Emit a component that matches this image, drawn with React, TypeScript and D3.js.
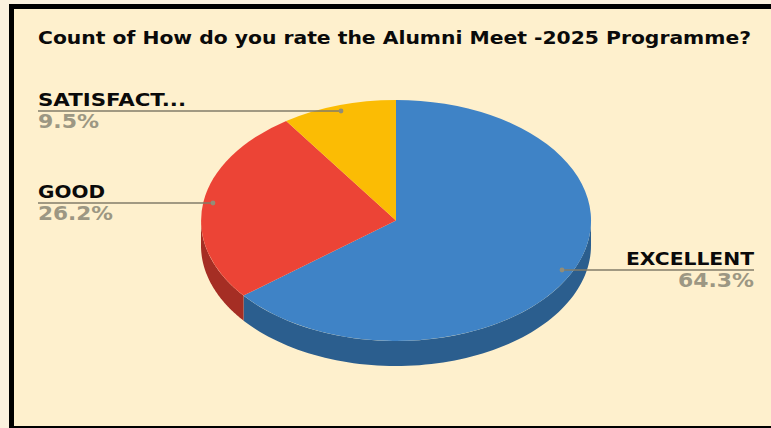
import React from "react";
import * as d3 from "d3";

const categories = ["EXCELLENT", "GOOD", "SATISFACTORY"];
const shownLabels = ["EXCELLENT", "GOOD", "SATISFACT..."];
const counts = [27, 11, 4];
const colors = ["#3f83c6", "#ec4436", "#fbbc04"];
const wallColors = ["#2b5e8e", "#a52e24", "#b58804"];
const title = "Count of How do you rate the Alumni Meet -2025 Programme?";

const W = 771, H = 428;
const cx = 396, cy = 220.5, rx = 195, ry = 120.5, depth = 25;
const font = "'DejaVu Sans', Verdana, sans-serif";

// label layout: leader y, dot x, and the stretched widths of the reference's text
const labelLayout = [
  { x: 754, y: 270, anchor: "end", dotX: 562, nameW: 128, pctW: 76 },
  { x: 38, y: 203, anchor: "start", dotX: 213, nameW: 67, pctW: 75 },
  { x: 38, y: 111, anchor: "start", dotX: 341, nameW: 148, pctW: 61 },
];

export default function App() {
  const total = d3.sum(counts);
  const pie = d3.pie<number>().sort(null).startAngle(0).endAngle(2 * Math.PI);
  const arcs = pie(counts);
  const arc = d3.arc<d3.PieArcDatum<number>>().innerRadius(0).outerRadius(1);
  const sx = d3.scaleLinear().domain([-1, 1]).range([cx - rx, cx + rx]);
  const sy = d3.scaleLinear().domain([-1, 1]).range([cy - ry, cy + ry]);
  const pct = d3.format(".1%");

  const wall = (a: d3.PieArcDatum<number>) => {
    const s = Math.max(a.startAngle, Math.PI / 2);
    const e = Math.min(a.endAngle, (3 * Math.PI) / 2);
    if (e <= s) return null;
    const n = 80;
    const ang = d3.range(n + 1).map((i) => s + ((e - s) * i) / n);
    const top = ang.map((t) => [sx(Math.sin(t)), sy(-Math.cos(t))] as [number, number]);
    const bottom = top.map(([x, y]) => [x, y + depth] as [number, number]).reverse();
    return d3.line()([...top, ...bottom]) + "Z";
  };

  return (
    <svg
      width={W}
      height={H}
      style={{ position: "absolute", left: 0, top: 0, display: "block" }}
      fontFamily={font}
    >
      <rect width={W} height={H} fill="#fbf1de" />
      <rect x={9} y={4} width={W} height={H} fill="#000" />
      <rect x={14} y={9} width={W} height={417} fill="#fef0cd" />
      <text
        x={38}
        y={44}
        fontSize={17}
        fontWeight="bold"
        fill="#0a0a0a"
        textLength={713}
        lengthAdjust="spacingAndGlyphs"
      >
        {title}
      </text>

      {arcs.map((a, i) => {
        const d = wall(a);
        return d ? <path key={i} d={d} fill={wallColors[i]} /> : null;
      })}
      <g transform={`translate(${cx},${cy}) scale(${rx},${ry})`}>
        {arcs.map((a, i) => (
          <path key={i} d={arc(a) ?? ""} fill={colors[i]} />
        ))}
      </g>

      {categories.map((c, i) => {
        const l = labelLayout[i];
        return (
          <g key={c}>
            <line x1={l.x} x2={l.dotX} y1={l.y} y2={l.y} stroke="#827d68" strokeWidth={1.5} />
            <circle cx={l.dotX} cy={l.y} r={2.4} fill="#928d78" />
            <text
              x={l.x}
              y={l.y - 5}
              textAnchor={l.anchor as any}
              fontSize={18.5}
              fontWeight="bold"
              fill="#0a0a0a"
              textLength={l.nameW}
              lengthAdjust="spacingAndGlyphs"
            >
              {shownLabels[i]}
            </text>
            <text
              x={l.x}
              y={l.y + 17}
              textAnchor={l.anchor as any}
              fontSize={19.5}
              fontWeight="bold"
              fill="#9c9783"
              textLength={l.pctW}
              lengthAdjust="spacingAndGlyphs"
            >
              {pct(counts[i] / total)}
            </text>
          </g>
        );
      })}
    </svg>
  );
}
